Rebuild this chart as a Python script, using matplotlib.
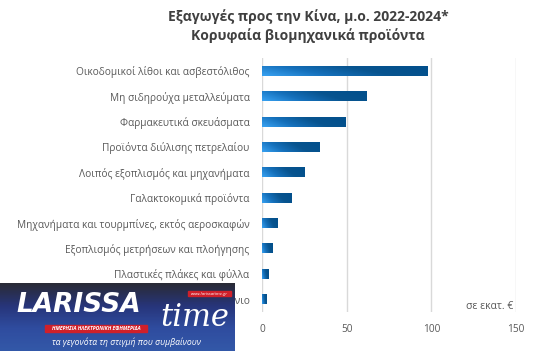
import numpy as np
import matplotlib
matplotlib.use("Agg")
import matplotlib.pyplot as plt
from matplotlib.colors import LinearSegmentedColormap
from matplotlib.patches import Rectangle

# --- data ---
categories = [
    "Οικοδομικοί λίθοι και ασβεστόλιθος",
    "Μη σιδηρούχα μεταλλεύματα",
    "Φαρμακευτικά σκευάσματα",
    "Προϊόντα διύλισης πετρελαίου",
    "Λοιπός εξοπλισμός και μηχανήματα",
    "Γαλακτοκομικά προϊόντα",
    "Μηχανήματα και τουρμπίνες, εκτός αεροσκαφών",
    "Εξοπλισμός μετρήσεων και πλοήγησης",
    "Πλαστικές πλάκες και φύλλα",
    "Αλουμίνιο",
]
values = [98.0, 62.0, 49.6, 34.2, 24.9, 17.3, 9.3, 6.2, 3.7, 2.8]
xticks = [0, 50, 100, 150]

title = "Εξαγωγές προς την Κίνα, μ.ο. 2022-2024*\nΚορυφαία βιομηχανικά προϊόντα"
unit_note = "σε εκατ. €"

plt.rcParams["font.family"] = ["Open Sans", "DejaVu Sans"]

fig = plt.figure(figsize=(5.52, 3.51), dpi=100)
fig.patch.set_facecolor("white")
ax = fig.add_axes([262 / 552, 1 - 311.7 / 351, (516 - 262) / 552, (311.7 - 58.3) / 351])

# bars with left-to-right gradient
bar_h = 0.4
ypos = np.arange(len(categories))
bars = ax.barh(ypos, values, height=bar_h, color="#0f5a9a", zorder=2)
grad_cmap = LinearSegmentedColormap.from_list("g", ["#37a0f0", "#1570bb", "#08548f", "#03508c"])
gx = np.linspace(0, 1, 64)
gy = np.linspace(0, 1, 8)
G = np.clip(gx[None, :] * 0.85 + gy[:, None] * 0.25, 0, 1)
for b in bars:
    x0, y0 = b.get_x(), b.get_y()
    im = ax.imshow(G, cmap=grad_cmap, aspect="auto", zorder=3,
                   extent=(x0, x0 + b.get_width(), y0, y0 + b.get_height()),
                   origin="upper", interpolation="bilinear")
    im.set_clip_path(b)

ax.set_xlim(0, 150)
ax.set_ylim(len(categories) - 0.5, -0.5)
ax.set_xticks(xticks)
ax.set_yticks(ypos)
ax.set_yticklabels(categories)
ax.grid(axis="x", color="#d9d9d9", linewidth=1.0, zorder=0)
ax.set_axisbelow(True)
for s in ax.spines.values():
    s.set_visible(False)
ax.tick_params(axis="both", length=0, colors="#595959", labelsize=7.3)
ax.tick_params(axis="y", pad=9)
ax.tick_params(axis="x", pad=9)

ax.text(148.3, 9.3, unit_note, ha="right", va="center", fontsize=7.5, color="#595959")

fig.text(0.558, 0.975, title, ha="center", va="top", fontsize=10, fontweight="bold",
         color="#404040", linespacing=1.4)

# --- publisher logo overlay (bottom-left) ---
lax = fig.add_axes([0, 0, 235 / 552, (351 - 283.3) / 351], zorder=10)
lax.set_xlim(0, 235)
lax.set_ylim(0, 68)
lax.axis("off")
logo_cmap = LinearSegmentedColormap.from_list("l", ["#2a2b36", "#27357a", "#2f4c9f", "#3358a8"])
lax.imshow(np.linspace(0, 1, 50)[:, None], cmap=logo_cmap, aspect="auto",
           extent=(0, 235, 0, 68), origin="upper")
lax.text(16, 46, "LARISSA", color="white", fontsize=19, fontweight="bold",
         fontstyle="italic", ha="left", va="center", family="DejaVu Sans")
lax.text(195, 34, "time", color="white", fontsize=22, fontstyle="italic",
         ha="center", va="center", family="DejaVu Serif")
lax.add_patch(Rectangle((45, 19), 102, 7, color="#d0202a"))
lax.text(96, 22.5, "ΗΜΕΡΗΣΙΑ ΗΛΕΚΤΡΟΝΙΚΗ ΕΦΗΜΕΡΙΔΑ", color="white", fontsize=3.6,
         fontweight="bold", fontstyle="italic", ha="center", va="center")
lax.add_patch(Rectangle((188, 55), 43, 5, color="#d0202a"))
lax.text(209.5, 57.5, "www.larissatime.gr", color="white", fontsize=3.2,
         fontstyle="italic", ha="center", va="center")
lax.text(127, 9, "τα γεγονότα τη στιγμή που συμβαίνουν", color="white", fontsize=6.2,
         fontstyle="italic", ha="center", va="center")

fig.savefig("out.png", dpi=100, facecolor="white")
